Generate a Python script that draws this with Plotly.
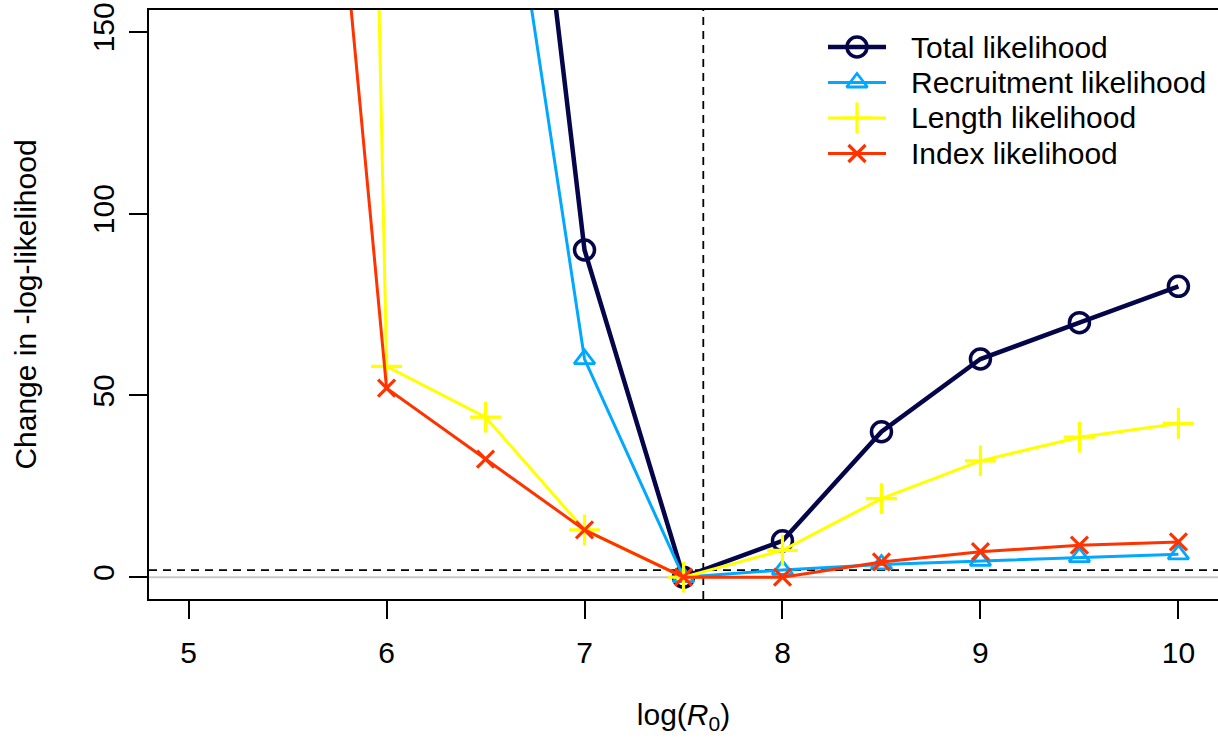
import plotly.graph_objects as go

# Likelihood profile over log(R0)
log_r0 = [5.5, 6.0, 6.5, 7.0, 7.5, 8.0, 8.5, 9.0, 9.5, 10.0]
total_lik = [None, None, 320, 90, 0, 10, 40, 60, 70, 80]
recruit_lik = [None, None, 240, 60, 0, 2, 3.5, 4.5, 5.5, 6.3]
length_lik = [1360, 58, 44, 13, 0, 7.4, 21.6, 32, 38.5, 42.3]
index_lik = [343, 52, 32.5, 13, 0, 0, 4.2, 7, 8.8, 9.7]

mle_log_r0 = 7.6
ci_threshold = 1.92

x_ticks = [5, 6, 7, 8, 9, 10]
y_ticks = [0, 50, 100, 150]

series = [
    ("Total likelihood", total_lik, "#05054A", 4.5, "circle-open", 20, 3.5),
    ("Recruitment likelihood", recruit_lik, "#00A8FF", 3, "triangle-up-open", 18, 2.8),
    ("Length likelihood", length_lik, "#FFFF00", 3, "cross-thin-open", 22, 3.2),
    ("Index likelihood", index_lik, "#FF3300", 3, "x-thin-open", 17, 3.2),
]

FONT = "Liberation Sans, Arial, sans-serif"
FS = 30

W, H = 1218, 740
ML, MR, MT, MB = 149, 0, 10, 141
PW, PH = W - ML - MR, H - MT - MB


def px(xp):
    return (xp - ML) / PW


def py(yp):
    return (H - MB - yp) / PH


fig = go.Figure()

for name, vals, color, lw, sym, size, mlw in series:
    fig.add_trace(go.Scatter(
        x=log_r0, y=vals, mode="lines+markers", name=name,
        line=dict(color=color, width=lw),
        marker=dict(symbol=sym, size=size, color=color, line=dict(color=color, width=mlw)),
        showlegend=False, cliponaxis=True,
    ))

# reference lines
fig.add_hline(y=0, line=dict(color="#C8C8C8", width=2), layer="below")
fig.add_hline(y=ci_threshold, line=dict(color="black", width=1.8, dash="8px,6px"), layer="below")
fig.add_vline(x=mle_log_r0, line=dict(color="black", width=1.8, dash="8px,6px"), layer="below")

# legend block: sample line, sample marker and label for each series
row_y = [47, 82.5, 118, 153.5]
for (name, vals, color, lw, sym, size, mlw), ry in zip(series, row_y):
    yy = py(ry)
    fig.add_shape(type="line", xref="paper", yref="paper",
                  x0=px(828), x1=px(886), y0=yy, y1=yy,
                  line=dict(color=color, width=lw), layer="above")
    fig.add_trace(go.Scatter(
        x=[px(857)], y=[yy], xaxis="x2", yaxis="y2",
        mode="markers", showlegend=False, hoverinfo="skip", cliponaxis=False,
        marker=dict(symbol=sym, size=size, color=color, line=dict(color=color, width=mlw)),
    ))
    fig.add_annotation(x=px(909), y=yy, xref="paper", yref="paper", text=name,
                       showarrow=False, xanchor="left", yanchor="middle",
                       font=dict(family=FONT, size=FS, color="black"))

fig.update_layout(
    width=W, height=H,
    margin=dict(l=ML, r=MR, t=MT, b=MB, pad=0),
    paper_bgcolor="white", plot_bgcolor="white",
    font=dict(family=FONT, size=FS, color="black"),
    xaxis=dict(
        range=[4.8, 10.2], tickvals=x_ticks, ticktext=[str(v) for v in x_ticks],
        showgrid=False, zeroline=False, showline=True, linecolor="black", linewidth=2,
        mirror=True, ticks="outside", ticklen=18, tickwidth=2, tickcolor="black",
        ticklabelstandoff=8,
        title=dict(text="log(<i>R</i><sub>0</sub>)", standoff=36, font=dict(size=FS)),
    ),
    yaxis=dict(
        range=[-6, 156], tickvals=y_ticks, ticktext=[str(v) for v in y_ticks],
        showgrid=False, zeroline=False, showline=True, linecolor="black", linewidth=2,
        mirror=False, ticks="outside", ticklen=18, tickwidth=2, tickcolor="black",
        tickangle=-90, ticklabelstandoff=3,
        title=dict(text="Change in -log-likelihood", standoff=42, font=dict(size=FS)),
    ),
    xaxis2=dict(range=[0, 1], overlaying="x", visible=False, fixedrange=True),
    yaxis2=dict(range=[0, 1], overlaying="y", visible=False, fixedrange=True),
)

fig.write_html("out.html")
